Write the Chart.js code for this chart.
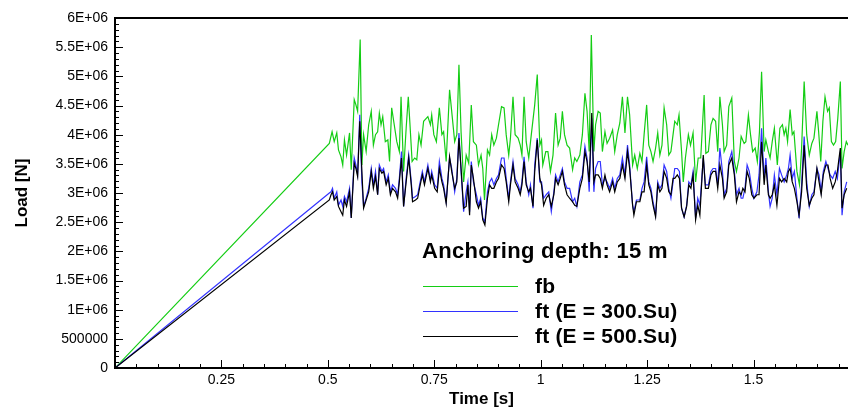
<!DOCTYPE html>
<html>
<head>
<meta charset="utf-8">
<title>Load vs time - anchoring depth 15 m</title>
<script src="https://cdn.jsdelivr.net/npm/chart.js@4.4.0/dist/chart.umd.min.js"></script>
<style>
	html, body { margin: 0; padding: 0; background: #fff; }
	#chart { display: block; }
</style>
</head>
<body>
<canvas id="chart" width="848" height="408"></canvas>
<script>
'use strict';

/* =========== Data ================= */
var timeTicks = [0.25, 0.5, 0.75, 1, 1.25, 1.5];
var loadTicks = [0, 5e5, 1e6, 1.5e6, 2e6, 2.5e6, 3e6, 3.5e6, 4e6, 4.5e6, 5e6, 5.5e6, 6e6];
var timeMax = 1.722;

// fb : time [s] / load [MN]
var fbTime = [0, 0.5035, 0.510, 0.515, 0.521, 0.525, 0.531, 0.535, 0.539, 0.544, 0.551, 0.555, 0.562, 0.566, 0.570, 0.576, 0.580, 0.584, 0.590, 0.596, 0.602, 0.607, 0.612, 0.617, 0.621, 0.625, 0.629, 0.635, 0.641, 0.645, 0.650, 0.656, 0.662, 0.668, 0.672, 0.678, 0.684, 0.689, 0.693, 0.698, 0.704, 0.709, 0.714, 0.719, 0.725,
	0.735, 0.741, 0.744, 0.749, 0.755, 0.762, 0.768, 0.772, 0.778, 0.786, 0.791, 0.798, 0.803, 0.808, 0.813, 0.819, 0.825, 0.831, 0.837, 0.842, 0.849, 0.854, 0.860, 0.864, 0.868, 0.875, 0.880, 0.885, 0.890, 0.896, 0.901, 0.908, 0.914, 0.919, 0.925, 0.929, 0.935, 0.940, 0.947, 0.952, 0.956, 0.961, 0.966, 0.972, 0.978,
	0.986, 0.992, 0.998, 1.002, 1.005, 1.012, 1.017, 1.023, 1.029, 1.035, 1.041, 1.046, 1.051, 1.056, 1.062, 1.068, 1.075, 1.080, 1.085, 1.092, 1.098, 1.104, 1.109, 1.114, 1.119, 1.125, 1.129, 1.135, 1.140, 1.145, 1.151, 1.156, 1.162, 1.169, 1.174, 1.180, 1.186, 1.192, 1.198, 1.204, 1.209, 1.216, 1.221, 1.227,
	1.233, 1.238, 1.243, 1.249, 1.254, 1.259, 1.264, 1.270, 1.275, 1.280, 1.285, 1.290, 1.296, 1.301, 1.306, 1.311, 1.315, 1.321, 1.325, 1.331, 1.335, 1.340, 1.347, 1.352, 1.358, 1.364, 1.370, 1.376, 1.384, 1.388, 1.394, 1.400, 1.405, 1.411, 1.416, 1.421, 1.427, 1.431, 1.437, 1.442, 1.449, 1.455, 1.460, 1.466, 1.471,
	1.478, 1.482, 1.488, 1.493, 1.498, 1.504, 1.509, 1.514, 1.519, 1.525, 1.529, 1.535, 1.539, 1.544, 1.549, 1.556, 1.562, 1.568, 1.572, 1.576, 1.580, 1.586, 1.591, 1.595, 1.602, 1.608, 1.613, 1.619, 1.625, 1.631, 1.637, 1.642, 1.649, 1.653, 1.658, 1.663, 1.668, 1.674, 1.678, 1.683, 1.688, 1.693, 1.698, 1.704, 1.708, 1.713, 1.718, 1.722];
var fbLoad = [0, 3.85, 4.05, 3.88, 4.03, 3.74, 3.62, 3.48, 3.91, 3.65, 4.03, 3.40, 4.60, 4.51, 4.40, 5.63, 3.48, 4.00, 3.71, 4.17, 4.40, 3.82, 4.00, 4.05, 4.37, 4.17, 4.31, 3.88, 3.91, 3.54, 4.46, 4.17, 3.88, 3.71, 4.65, 3.37, 4.11, 4.65, 4.17, 3.54, 3.60, 3.57, 4.00, 3.82, 4.23,
	4.31, 4.17, 4.34, 4.00, 3.88, 4.46, 4.00, 4.05, 3.54, 4.77, 4.40, 3.88, 4.00, 5.20, 4.05, 3.19, 3.65, 3.51, 4.51, 3.88, 3.82, 3.48, 3.65, 3.42, 2.88, 3.74, 3.65, 4.00, 3.82, 3.94, 4.17, 4.48, 4.46, 4.00, 3.65, 3.94, 4.65, 4.00, 3.94, 3.82, 3.65, 4.65, 3.88, 3.60, 4.00,
	4.51, 5.03, 3.82, 3.91, 3.48, 3.71, 3.71, 3.37, 3.65, 4.37, 3.82, 3.94, 4.40, 4.00, 3.82, 3.77, 3.40, 3.60, 3.54, 3.65, 4.00, 4.71, 4.40, 3.71, 5.71, 3.71, 4.17, 4.40, 4.37, 3.71, 4.05, 3.85, 3.94, 4.08, 3.71, 4.00, 4.20, 4.65, 4.03, 4.65, 4.34, 3.48, 3.65, 3.42,
	3.68, 3.54, 4.00, 4.51, 3.82, 3.71, 3.54, 3.77, 4.03, 3.65, 3.82, 4.46, 4.17, 3.65, 3.71, 4.00, 4.23, 4.17, 4.34, 3.71, 3.19, 3.60, 4.00, 3.82, 4.03, 3.19, 3.60, 3.60, 4.68, 3.68, 3.71, 4.17, 4.28, 4.23, 3.71, 4.65, 4.17, 3.71, 3.82, 4.48, 4.63, 3.54, 3.37, 3.60, 3.97,
	3.85, 3.88, 4.34, 4.00, 3.71, 3.77, 3.54, 4.05, 5.08, 3.71, 3.91, 3.71, 3.60, 3.88, 4.11, 3.48, 4.11, 4.17, 4.00, 4.11, 3.88, 4.43, 4.00, 4.05, 3.37, 3.14, 3.77, 4.91, 4.00, 3.65, 3.85, 3.94, 4.40, 4.05, 3.54, 4.23, 4.65, 4.40, 4.46, 3.88, 3.82, 3.88, 4.28, 4.91, 3.42, 3.71, 3.88, 3.82];

// ft : time [s] shared by both E cases / load [MN]
var ftTime = [0, 0.5035, 0.5075, 0.511, 0.515, 0.521, 0.525, 0.531, 0.535, 0.539, 0.544, 0.551, 0.555, 0.562, 0.566, 0.570, 0.575, 0.580, 0.584, 0.590, 0.596, 0.602, 0.607, 0.612, 0.617, 0.621, 0.627, 0.631, 0.637, 0.642, 0.647, 0.652, 0.659, 0.664, 0.668, 0.673, 0.678, 0.684, 0.690, 0.696, 0.699, 0.706, 0.711, 0.717, 0.722, 0.727,
	0.735, 0.741, 0.744, 0.751, 0.757, 0.762, 0.768, 0.772, 0.778, 0.786, 0.791, 0.798, 0.803, 0.808, 0.813, 0.819, 0.825, 0.829, 0.833, 0.837, 0.842, 0.849, 0.854, 0.859, 0.864, 0.869, 0.875, 0.880, 0.885, 0.890, 0.896, 0.901, 0.908, 0.914, 0.919, 0.925, 0.929, 0.935, 0.940, 0.947, 0.952, 0.956, 0.961, 0.966, 0.972, 0.976, 0.982,
	0.986, 0.992, 0.998, 1.002, 1.007, 1.013, 1.019, 1.025, 1.031, 1.035, 1.041, 1.046, 1.051, 1.056, 1.062, 1.068, 1.075, 1.080, 1.085, 1.092, 1.098, 1.104, 1.109, 1.114, 1.120, 1.125, 1.129, 1.135, 1.140, 1.145, 1.151, 1.156, 1.162, 1.169, 1.174, 1.180, 1.186, 1.192, 1.198, 1.204, 1.209, 1.216, 1.219, 1.225,
	1.233, 1.238, 1.243, 1.249, 1.254, 1.259, 1.264, 1.270, 1.275, 1.280, 1.285, 1.290, 1.296, 1.301, 1.306, 1.311, 1.315, 1.321, 1.326, 1.331, 1.337, 1.343, 1.348, 1.353, 1.358, 1.364, 1.369, 1.374, 1.382, 1.387, 1.394, 1.400, 1.405, 1.411, 1.416, 1.421, 1.427, 1.431, 1.437, 1.442, 1.449, 1.455, 1.460, 1.466, 1.471,
	1.475, 1.480, 1.485, 1.490, 1.496, 1.501, 1.508, 1.513, 1.519, 1.525, 1.529, 1.535, 1.539, 1.544, 1.549, 1.555, 1.561, 1.566, 1.572, 1.578, 1.582, 1.586, 1.591, 1.596, 1.602, 1.607, 1.613, 1.619, 1.625, 1.631, 1.637, 1.642, 1.649, 1.654, 1.659, 1.664, 1.670, 1.675, 1.680, 1.686, 1.692, 1.697, 1.704, 1.708, 1.713, 1.719];
var ft300Load = [0, 3.00, 3.02, 3.08, 2.91, 3.02, 2.79, 2.88, 2.77, 2.94, 2.85, 3.08, 2.57, 3.60, 3.48, 3.31, 4.34, 3.19, 2.77, 2.91, 3.08, 3.42, 3.14, 3.37, 2.97, 3.48, 3.37, 3.42, 3.19, 3.31, 3.02, 3.14, 3.08, 2.97, 3.25, 3.71, 2.77, 3.25, 3.65, 3.19, 2.91, 2.94, 2.97, 3.19, 3.37, 3.19,
	3.48, 3.22, 3.37, 3.14, 3.08, 3.54, 3.25, 3.14, 2.85, 3.60, 3.42, 3.02, 3.25, 4.03, 3.37, 2.68, 3.02, 3.19, 2.68, 3.54, 3.19, 2.97, 2.79, 2.91, 2.57, 2.51, 3.02, 3.19, 3.25, 3.14, 3.25, 3.31, 3.60, 3.60, 3.25, 2.91, 3.19, 3.54, 3.25, 3.14, 3.02, 3.19, 3.62, 3.19, 2.97, 3.14, 2.74,
	3.48, 3.94, 3.19, 3.19, 2.91, 2.97, 3.02, 2.68, 3.02, 3.31, 3.19, 3.31, 3.42, 3.19, 3.08, 3.08, 2.85, 2.91, 2.77, 3.19, 3.31, 3.80, 3.60, 3.02, 4.28, 3.02, 3.42, 3.54, 3.54, 3.14, 3.25, 3.19, 3.08, 3.25, 3.08, 3.25, 3.31, 3.60, 3.31, 3.82, 3.48, 2.79, 2.68, 2.88,
	2.88, 3.08, 3.19, 3.62, 3.19, 3.08, 2.85, 2.62, 3.19, 3.08, 3.14, 3.48, 3.37, 3.08, 2.91, 3.19, 3.42, 3.42, 3.37, 2.74, 2.59, 2.79, 3.19, 3.14, 3.37, 2.57, 2.91, 2.79, 3.60, 3.14, 3.14, 3.37, 3.42, 3.42, 3.14, 3.77, 3.37, 2.97, 3.08, 3.54, 3.71, 3.37, 2.97, 3.08, 2.91,
	2.91, 3.08, 3.48, 3.37, 3.08, 2.91, 3.02, 3.31, 4.11, 3.25, 3.60, 3.02, 2.77, 2.91, 3.31, 2.97, 3.42, 3.31, 3.19, 3.31, 3.42, 3.65, 3.25, 3.37, 2.91, 2.57, 3.14, 3.97, 3.19, 2.77, 2.97, 3.02, 3.42, 3.31, 3.02, 3.37, 3.54, 3.42, 3.31, 3.25, 3.37, 3.25, 3.71, 2.62, 3.02, 3.19];
var ft500Load = [0, 2.88, 2.97, 3.02, 2.88, 2.94, 2.77, 2.68, 2.62, 2.88, 2.77, 3.02, 2.57, 3.51, 3.42, 3.28, 4.23, 3.37, 2.74, 2.88, 3.02, 3.37, 3.08, 3.28, 2.97, 3.42, 3.34, 3.37, 3.14, 3.25, 2.97, 3.08, 3.02, 2.91, 3.19, 3.60, 2.77, 3.19, 3.60, 3.14, 2.85, 2.88, 2.91, 3.14, 3.31, 3.14,
	3.42, 3.19, 3.31, 3.08, 3.02, 3.42, 3.19, 3.08, 2.82, 3.62, 3.37, 3.08, 3.19, 3.94, 3.42, 2.74, 2.77, 3.14, 2.62, 3.48, 3.25, 2.85, 2.74, 2.85, 2.54, 2.45, 2.91, 3.14, 3.08, 3.08, 3.19, 3.25, 3.48, 3.42, 3.19, 2.85, 3.14, 3.48, 3.19, 3.08, 2.97, 3.14, 3.54, 3.14, 3.02, 3.08, 2.77,
	3.37, 3.91, 3.25, 3.14, 2.79, 2.91, 2.97, 2.77, 2.97, 3.25, 3.14, 3.25, 3.37, 3.14, 2.97, 2.91, 2.85, 2.79, 2.77, 3.08, 3.25, 3.71, 3.54, 3.19, 4.37, 3.19, 3.31, 3.31, 3.25, 3.08, 3.31, 3.14, 3.02, 3.19, 3.02, 3.19, 3.25, 3.48, 3.25, 3.71, 3.42, 2.79, 2.62, 2.85,
	2.85, 3.02, 3.02, 3.48, 3.14, 3.02, 2.79, 2.59, 3.14, 3.02, 3.08, 3.37, 3.25, 3.02, 2.97, 3.25, 3.25, 3.31, 3.25, 2.74, 2.59, 2.77, 3.14, 3.08, 3.31, 2.54, 2.79, 2.62, 3.65, 3.08, 3.08, 3.31, 3.37, 3.37, 3.08, 3.48, 3.25, 2.91, 3.02, 3.48, 3.60, 3.31, 2.85, 3.02, 2.97,
	3.08, 3.02, 3.37, 3.25, 2.97, 2.91, 2.97, 2.97, 3.88, 3.14, 3.48, 2.97, 2.91, 2.97, 3.14, 2.79, 3.25, 3.19, 3.25, 3.19, 3.37, 3.42, 3.19, 3.08, 2.85, 2.62, 3.02, 3.82, 3.08, 2.79, 2.91, 2.97, 3.42, 3.19, 2.97, 3.31, 3.48, 3.48, 3.25, 3.08, 3.19, 3.37, 3.77, 2.74, 2.97, 3.08];

var legendTitle = 'Anchoring depth: 15 m';
var seriesNames = ['fb', 'ft (E = 300.Su)', 'ft (E = 500.Su)'];
var seriesColors = ['rgb(20,205,20)', 'rgb(50,50,255)', '#000000'];
/* ------------------------------------------------ */

function toPoints(times, loads) {
	var n = Math.min(times.length, loads.length);
	var pts = [];
	for (var i = 0; i < n; i++) {
		pts.push({ x: times[i], y: loads[i] * 1e6 });
	}
	return pts;
}

function sciLabel(v) {
	if (v === 0) return '0';
	if (v < 1e6) return String(v);
	return (v / 1e6) + 'E+06';
}

var FONT = "'Liberation Sans', Arial, Helvetica, sans-serif";

/* =========== Frame with inward ticks (Tecplot style) ================= */
var framePlugin = {
	id: 'frame',
	afterDatasetsDraw: function(chart) {
		var ctx = chart.ctx, a = chart.chartArea;
		var xs = chart.scales.x, ys = chart.scales.y;
		ctx.save();
		ctx.strokeStyle = '#000';
		ctx.lineWidth = 2;
		ctx.beginPath();
		ctx.moveTo(chart.width, a.top);
		ctx.lineTo(a.left, a.top);
		ctx.lineTo(a.left, a.bottom);
		ctx.lineTo(chart.width, a.bottom);
		ctx.stroke();

		ctx.lineWidth = 1;
		ctx.beginPath();
		var xStep = (timeTicks[1] - timeTicks[0]) / 5;
		for (var i = 1; i * xStep <= xs.max + 1e-9; i++) {
			var px = Math.round(xs.getPixelForValue(i * xStep)) + 0.5;
			var len = (i % 5 === 0) ? 8 : 4;
			ctx.moveTo(px, a.bottom);
			ctx.lineTo(px, a.bottom - len);
		}
		var yStep = (loadTicks[1] - loadTicks[0]) / 5;
		for (var j = 1; j * yStep <= ys.max + 1; j++) {
			var py = Math.round(ys.getPixelForValue(j * yStep)) + 0.5;
			var ylen = (j % 5 === 0) ? 8 : 4;
			ctx.moveTo(a.left, py);
			ctx.lineTo(a.left + ylen, py);
		}
		ctx.stroke();
		ctx.restore();
	}
};

/* =========== Legend inside the plot ================= */
var legendPlugin = {
	id: 'innerLegend',
	afterDraw: function(chart) {
		var ctx = chart.ctx;
		ctx.save();
		ctx.fillStyle = '#000';
		ctx.textAlign = 'left';
		ctx.textBaseline = 'alphabetic';
		ctx.font = 'bold 22px ' + FONT;
		ctx.letterSpacing = '0.3px';
		ctx.fillText(legendTitle, 422, 258);

		ctx.font = 'bold 21px ' + FONT;
		ctx.letterSpacing = '0.2px';
		for (var i = 0; i < seriesNames.length; i++) {
			var ly = 286 + i * 25 + 0.5;
			ctx.strokeStyle = seriesColors[i];
			ctx.lineWidth = 1.2;
			ctx.beginPath();
			ctx.moveTo(423, ly);
			ctx.lineTo(518, ly);
			ctx.stroke();
			ctx.fillText(seriesNames[i], 535, 293 + i * 25);
		}
		ctx.restore();
	}
};

var ctx = document.getElementById('chart');
var chart = new Chart(ctx, {
	type: 'line',
	data: {
		datasets: [{
			label: seriesNames[0],
			data: toPoints(fbTime, fbLoad),
			borderColor: seriesColors[0],
			order: 2
		}, {
			label: seriesNames[1],
			data: toPoints(ftTime, ft300Load),
			borderColor: seriesColors[1],
			order: 1
		}, {
			label: seriesNames[2],
			data: toPoints(ftTime, ft500Load),
			borderColor: seriesColors[2],
			order: 0
		}]
	},
	options: {
		responsive: false,
		animation: false,
		devicePixelRatio: 1,
		layout: { padding: { top: 18, right: 0, left: 0, bottom: 0 } },
		elements: {
			line: { borderWidth: 1.2, tension: 0, fill: false },
			point: { radius: 0 }
		},
		plugins: {
			legend: { display: false },
			tooltip: { enabled: false }
		},
		scales: {
			x: {
				type: 'linear',
				min: 0,
				max: timeMax,
				grid: { display: false, drawTicks: false },
				border: { display: false },
				afterBuildTicks: function(scale) {
					scale.ticks = timeTicks.map(function(v) { return { value: v }; });
				},
				afterFit: function(scale) { scale.height = 40; },
				ticks: {
					autoSkip: false,
					maxRotation: 0,
					padding: 4,
					color: '#000',
					font: { family: FONT, size: 14 },
					callback: function(v) { return String(v); }
				},
				title: {
					display: true,
					text: 'Time [s]',
					color: '#000',
					padding: { top: 0, bottom: -2 },
					font: { family: FONT, size: 17, weight: 'bold' }
				}
			},
			y: {
				type: 'linear',
				min: 0,
				max: 6e6,
				grid: { display: false, drawTicks: false },
				border: { display: false },
				afterBuildTicks: function(scale) {
					scale.ticks = loadTicks.map(function(v) { return { value: v }; });
				},
				afterFit: function(scale) { scale.width = 115; },
				ticks: {
					autoSkip: false,
					padding: 7,
					color: '#000',
					font: { family: FONT, size: 14 },
					callback: function(v) { return sciLabel(v); }
				},
				title: {
					display: true,
					text: 'Load [N]',
					color: '#000',
					padding: { top: 12, bottom: 0 },
					font: { family: FONT, size: 17, weight: 'bold' }
				}
			}
		}
	},
	plugins: [framePlugin, legendPlugin]
});
</script>
</body>
</html>
